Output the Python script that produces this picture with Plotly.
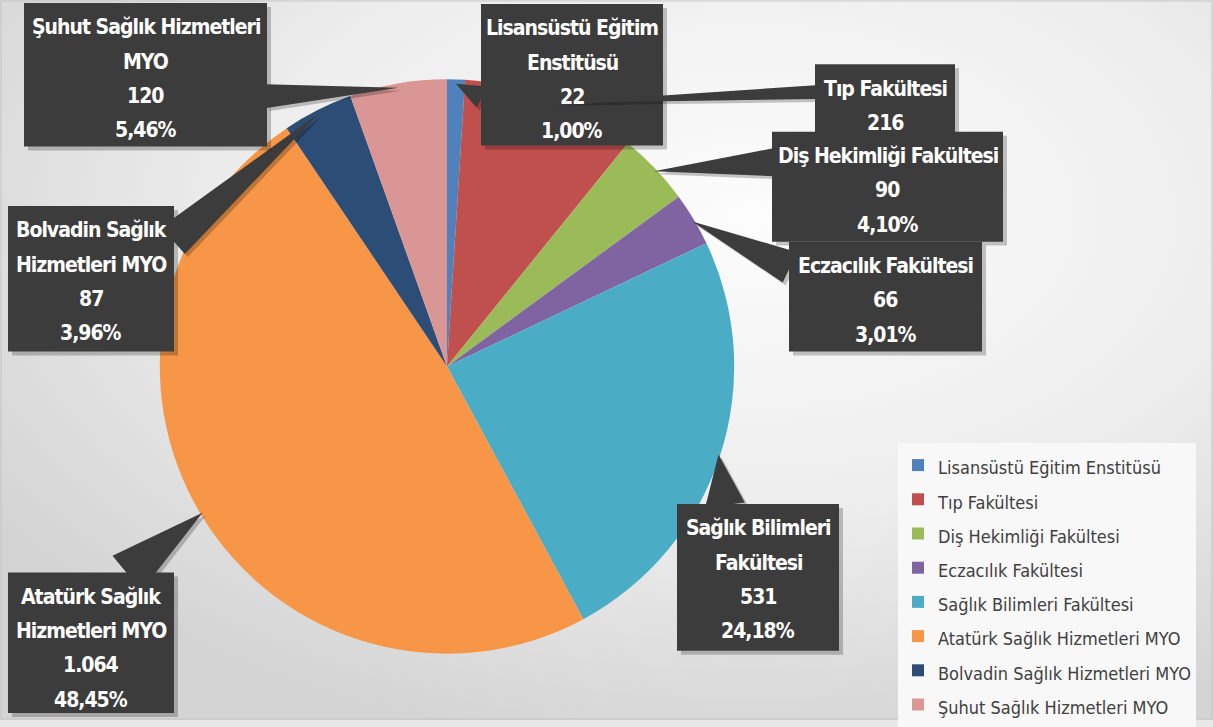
import math
import base64
import plotly.graph_objects as go

# ---------------- data ----------------
names = [
    "Lisansüstü Eğitim Enstitüsü",
    "Tıp Fakültesi",
    "Diş Hekimliği Fakültesi",
    "Eczacılık Fakültesi",
    "Sağlık Bilimleri Fakültesi",
    "Atatürk Sağlık Hizmetleri MYO",
    "Bolvadin Sağlık Hizmetleri MYO",
    "Şuhut Sağlık Hizmetleri MYO",
]
values = [22, 216, 90, 66, 531, 1064, 87, 120]
colors = ["#4F81BD", "#C0504D", "#9BBB59", "#8064A2",
          "#4BACC6", "#F79646", "#2C4D75", "#D99694"]
label_lines = [
    ["Lisansüstü Eğitim", "Enstitüsü"],
    ["Tıp Fakültesi"],
    ["Diş Hekimliği Fakültesi"],
    ["Eczacılık Fakültesi"],
    ["Sağlık Bilimleri", "Fakültesi"],
    ["Atatürk Sağlık", "Hizmetleri MYO"],
    ["Bolvadin Sağlık", "Hizmetleri MYO"],
    ["Şuhut Sağlık Hizmetleri", "MYO"],
]

# ---------------- layout constants (pixels) ----------------
W, H = 1213, 727
CX, CY, R = 447, 370, 290

# callout boxes: (x0, y0, x1, y1), pointer base centre, half width, lines shown
callouts = [
    dict(box=(481, 4, 663, 147), base=(482, 98), hw=12, nshow=4),
    dict(box=(815, 65, 955, 150), base=(816, 93), hw=7, nshow=2),
    dict(box=(772, 133, 1003, 244), base=(773, 164), hw=14, nshow=3),
    dict(box=(789, 244, 982, 355), base=(790, 270), hw=17, nshow=3),
    dict(box=(677, 509, 839, 657), base=(725, 510), hw=20, nshow=4),
    dict(box=(8, 578, 174, 720), base=(127, 579), hw=23, nshow=4),
    dict(box=(8, 208, 174, 355), base=(173, 243), hw=18, nshow=4),
    dict(box=(24, 3, 267, 148), base=(266, 97), hw=12, nshow=4),
]
LINE0 = 24.5
LSTEP = 34.7


def px(x, y):
    return x / W, 1 - y / H


total = sum(values)
cum = 0
mids = []
for v in values:
    mids.append((cum + v / 2) / total * 2 * math.pi)
    cum += v


def fmt_int(v):
    return f"{v:,}".replace(",", ".")


def fmt_pct(v):
    return f"{v / total * 100:.2f}".replace(".", ",") + "%"


fig = go.Figure()
legend_names = [f'<span style="font-size:18px">{n}</span>' for n in names]
fig.add_trace(go.Pie(
    labels=legend_names,
    values=values,
    marker=dict(colors=colors, line=dict(width=0)),
    sort=False,
    direction="clockwise",
    rotation=0,
    textinfo="none",
    textposition="none",
    hoverinfo="label+value+percent",
    domain=dict(x=[(CX - R) / W, (CX + R) / W],
                y=[1 - (CY + R) / H, 1 - (CY - R) / H]),
    showlegend=True,
))

shapes = []
annotations = []
BOX = "#3c3c3c"
SHADOW = "rgba(0,0,0,0.22)"
LBL_FONT = "DejaVu Sans Condensed, Liberation Sans Narrow, Arial Narrow, sans-serif"

for i, c in enumerate(callouts):
    ang = mids[i]
    tx = CX + 0.985 * R * math.sin(ang)
    ty = CY - 0.985 * R * math.cos(ang)
    bx, by = c["base"]
    dx, dy = tx - bx, ty - by
    L = math.hypot(dx, dy)
    nx, ny = -dy / L * c["hw"], dx / L * c["hw"]
    p1 = px(bx + nx, by + ny)
    p2 = px(tx, ty)
    p3 = px(bx - nx, by - ny)
    x0, y0, x1, y1 = c["box"]
    # shadow
    s1 = px(bx + nx + 3, by + ny + 3)
    s2 = px(tx + 3, ty + 3)
    s3 = px(bx - nx + 3, by - ny + 3)
    shapes.append(dict(type="path", xref="paper", yref="paper",
                       path=f"M{s1[0]},{s1[1]} L{s2[0]},{s2[1]} L{s3[0]},{s3[1]} Z",
                       fillcolor=SHADOW, line=dict(width=0), layer="above"))
    a0 = px(x0 + 4, y0 + 4)
    a1 = px(x1 + 4, y1 + 4)
    shapes.append(dict(type="rect", xref="paper", yref="paper",
                       x0=a0[0], y0=a0[1], x1=a1[0], y1=a1[1],
                       fillcolor=SHADOW, line=dict(width=0), layer="above"))
    shapes.append(dict(type="path", xref="paper", yref="paper",
                       path=f"M{p1[0]},{p1[1]} L{p2[0]},{p2[1]} L{p3[0]},{p3[1]} Z",
                       fillcolor=BOX, line=dict(width=0), layer="above"))
    b0 = px(x0, y0)
    b1 = px(x1, y1)
    shapes.append(dict(type="rect", xref="paper", yref="paper",
                       x0=b0[0], y0=b0[1], x1=b1[0], y1=b1[1],
                       fillcolor=BOX, line=dict(width=0), layer="above"))
    lines = label_lines[i] + [fmt_int(values[i]), fmt_pct(values[i])]
    xc = (x0 + x1) / 2
    for k, t in enumerate(lines[:c["nshow"]]):
        ax_, ay_ = px(xc, y0 + LINE0 + k * LSTEP)
        annotations.append(dict(
            x=ax_, y=ay_, xref="paper", yref="paper",
            text=f'<span style="letter-spacing:-1px"><b>{t}</b></span>',
            showarrow=False,
            xanchor="center", yanchor="middle",
            font=dict(family=LBL_FONT, size=21, color="white"),
        ))

# outer border
shapes.append(dict(type="rect", xref="paper", yref="paper",
                   x0=1 / W, y0=1 / H, x1=1 - 1 / W, y1=1 - 1 / H,
                   line=dict(color="#c4c4c4", width=1), layer="below"))

# background gradient image
svg = (
    '<svg xmlns="http://www.w3.org/2000/svg" width="1213" height="727">'
    '<defs><radialGradient id="g" cx="0.62" cy="0.3" r="0.75">'
    '<stop offset="0" stop-color="#fcfcfc"/>'
    '<stop offset="0.55" stop-color="#ededed"/>'
    '<stop offset="1" stop-color="#d4d4d4"/>'
    '</radialGradient></defs>'
    '<rect width="1213" height="727" fill="url(#g)"/></svg>'
)
src = "data:image/svg+xml;base64," + base64.b64encode(svg.encode()).decode()

fig.update_layout(
    width=W, height=H,
    margin=dict(l=0, r=0, t=0, b=0),
    paper_bgcolor="#e8e8e8",
    plot_bgcolor="rgba(0,0,0,0)",
    shapes=shapes,
    annotations=annotations,
    images=[dict(source=src, xref="paper", yref="paper", x=0, y=1,
                 sizex=1, sizey=1, sizing="stretch", layer="below")],
    legend=dict(
        x=898 / W, y=-0.01, xanchor="left", yanchor="bottom",
        bgcolor="#f8f8f8",
        borderwidth=0,
        font=dict(family="DejaVu Sans Condensed, Liberation Sans Narrow, sans-serif",
                  size=24, color="#404040"),
        itemwidth=30,
        traceorder="normal",
    ),
)

fig.write_html("out.html", config={"displayModeBar": False},
               post_script="document.body.style.margin='0';")
